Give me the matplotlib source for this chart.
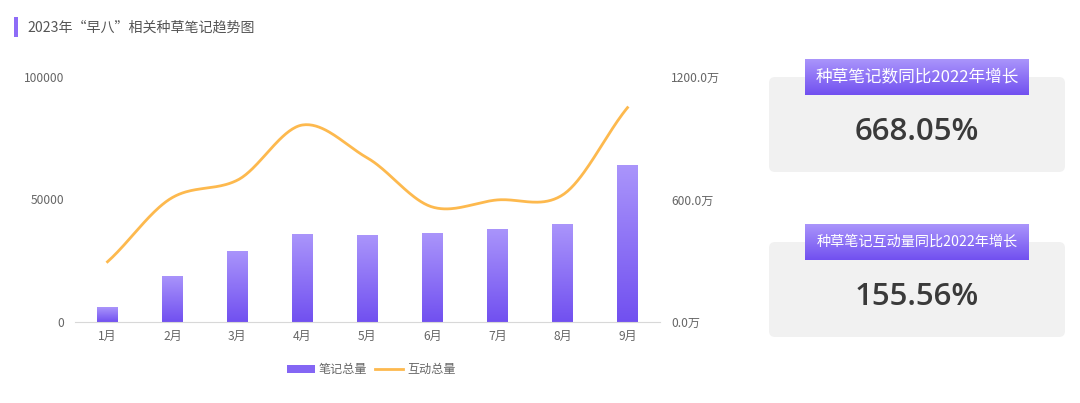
import numpy as np
import matplotlib
matplotlib.use("Agg")
import matplotlib.pyplot as plt
from matplotlib.patches import FancyBboxPatch, Rectangle
from matplotlib.colors import LinearSegmentedColormap

plt.rcParams['font.family'] = ['Noto Sans CJK SC', 'DejaVu Sans']

# data
months = ['1月', '2月', '3月', '4月', '5月', '6月', '7月', '8月', '9月']
notes_total = [6000, 18800, 29000, 35900, 35500, 36300, 38000, 40000, 64000]
interact_total = [295, 610, 695, 965, 803, 563, 598, 622, 1050]  # 万
left_ticks = [0, 50000, 100000]
right_ticks = [0, 600, 1200]
kpi_titles = ['种草笔记数同比2022年增长', '种草笔记互动量同比2022年增长']
kpi_values = ['668.05%', '155.56%']

W, H = 1080, 403
fig = plt.figure(figsize=(W / 100, H / 100), dpi=100)
fig.patch.set_facecolor('white')

purple_cmap = LinearSegmentedColormap.from_list('pp', ['#7150f0', '#aa95fb'])
grad = np.linspace(0, 1, 256).reshape(-1, 1)


def fx(px):
    return px / W


def fy(py):
    return 1 - py / H


# background axes for panels / decorations
bg = fig.add_axes([0, 0, 1, 1], zorder=-1)
bg.set_xlim(0, W)
bg.set_ylim(H, 0)
bg.axis('off')

# title
bg.add_patch(Rectangle((14, 17), 4, 20, facecolor='#8e6cf7', edgecolor='none'))
bg.text(27, 28, '2023年“早八”相关种草笔记趋势图', fontsize=10.1, color='#555555',
        va='center', ha='left')

# main chart
ax = fig.add_axes([fx(75), fy(322), fx(660) - fx(75), (322 - 77) / H])
x = np.arange(len(months))
bars = ax.bar(x, notes_total, width=0.31, color='none', edgecolor='none', zorder=2)
for b in bars:
    bx, by = b.get_x(), b.get_y()
    im = ax.imshow(grad, cmap=purple_cmap, aspect='auto', origin='lower',
                   extent=[bx, bx + b.get_width(), by, by + b.get_height()], zorder=2)
    im.set_clip_path(b)
ax.set_xlim(-0.5, len(months) - 0.5)
ax.set_ylim(0, 100000)
ax.set_yticks(left_ticks)
ax.set_yticklabels([str(v) for v in left_ticks])
ax.set_xticks(x)
ax.set_xticklabels(months)
for s in ['top', 'right', 'left']:
    ax.spines[s].set_visible(False)
ax.spines['bottom'].set_color('#d8d8d8')
ax.tick_params(axis='both', length=0, labelsize=8.7, colors='#666666')
ax.tick_params(axis='y', pad=8)
ax.tick_params(axis='x', pad=6)

# smooth line on right axis
ax2 = ax.twinx()
ax2.set_ylim(0, 1200)
ax2.set_yticks(right_ticks)
ax2.set_yticklabels([f'{v:.1f}万' for v in right_ticks])
for s in ax2.spines.values():
    s.set_visible(False)
ax2.tick_params(axis='y', length=0, labelsize=8.7, colors='#666666', pad=8)

yv = np.array(interact_total, dtype=float)
xs, ys = [], []
for i in range(len(yv) - 1):
    p0 = yv[max(i - 1, 0)]
    p1, p2 = yv[i], yv[i + 1]
    p3 = yv[min(i + 2, len(yv) - 1)]
    m1 = (p2 - p0) / (2 if 0 < i else 1) * 0.9
    m2 = (p3 - p1) / (2 if i + 2 < len(yv) else 1) * 0.9
    t = np.linspace(0, 1, 40)
    h00 = 2 * t**3 - 3 * t**2 + 1
    h10 = t**3 - 2 * t**2 + t
    h01 = -2 * t**3 + 3 * t**2
    h11 = t**3 - t**2
    xs.extend(i + t)
    ys.extend(h00 * p1 + h10 * m1 + h01 * p2 + h11 * m2)
ax2.plot(xs, ys, color='#fdb94e', lw=2, zorder=3)

# legend
ly = 369
bg.add_patch(Rectangle((287, ly - 4), 28, 8, facecolor='#8466f4', edgecolor='none'))
bg.text(319, ly, '笔记总量', fontsize=8.7, color='#666666', va='center', ha='left')
bg.plot([375, 403], [ly, ly], color='#fdb94e', lw=2)
bg.text(407, ly, '互动总量', fontsize=8.7, color='#666666', va='center', ha='left')

# KPI panels
tops = [77, 242]
for k in range(2):
    t = tops[k]
    bg.add_patch(FancyBboxPatch((769, t), 296, 95,
                                boxstyle='round,pad=0,rounding_size=6',
                                facecolor='#f1f1f1', edgecolor='none'))
    bax = fig.add_axes([fx(805), fy(t + 18), fx(224), 36 / H], zorder=2)
    bax.imshow(grad, cmap=purple_cmap, aspect='auto', origin='lower', extent=[0, 1, 0, 1])
    bax.set_xlim(0, 1)
    bax.set_ylim(0, 1)
    bax.axis('off')
    bax.text(0.5, 0.5, kpi_titles[k], color='white', fontsize=12 if k == 0 else 10.2,
             ha='center', va='center')
    bg.text(917, t + 55, kpi_values[k], fontsize=22.5, fontweight='semibold',
            family=['Open Sans', 'DejaVu Sans'],
            color='#3a3a3a', ha='center', va='center')

fig.savefig('out.png', dpi=100)
